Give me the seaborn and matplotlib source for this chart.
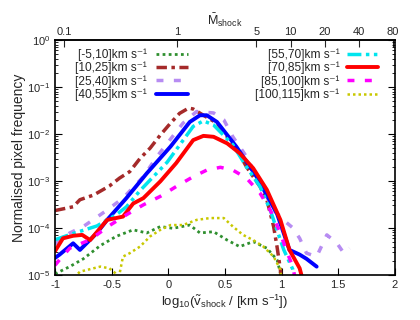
"""
速度ビン別の衝撃波速度分布（正規化ピクセル頻度）を再現する
"""

import numpy as np
import pandas as pd
import matplotlib
matplotlib.use("Agg")
import matplotlib.pyplot as plt
import seaborn as sns

# ---- データ ----
labels = ["[-5,10]km s⁻¹", "[10,25]km s⁻¹", "[25,40]km s⁻¹", "[40,55]km s⁻¹",
          "[55,70]km s⁻¹", "[70,85]km s⁻¹", "[85,100]km s⁻¹", "[100,115]km s⁻¹"]

x_m5_10 = [-1.0, -0.87, -0.75, -0.60, -0.46, -0.31, -0.19, -0.07, 0.04, 0.19,
           0.28, 0.40, 0.52, 0.63, 0.75, 0.87, 0.96, 0.99, 1.0]
y_m5_10 = [1.05e-5, 1.5e-5, 2.2e-5, 4.2e-5, 6.6e-5, 9.1e-5, 7.8e-5, 1.07e-4, 9.8e-5, 1.15e-4,
           7.8e-5, 8.3e-5, 5.5e-5, 4.0e-5, 5.1e-5, 3.7e-5, 2.1e-5, 1.1e-5, 6e-6]

x_10_25 = [-1.0, -0.84, -0.78, -0.66, -0.52, -0.43, -0.34, -0.25, -0.16, -0.07, 0.02, 0.10,
           0.18, 0.22, 0.31, 0.43, 0.52, 0.60, 0.69, 0.81, 0.87, 0.93, 0.96, 0.99, 1.0]
y_10_25 = [2.34e-4, 2.82e-4, 3.98e-4, 5.0e-4, 7.8e-4, 1.15e-3, 1.58e-3, 3.0e-3, 5.0e-3, 9.5e-3,
           1.7e-2, 2.75e-2, 3.55e-2, 3.4e-2, 2.5e-2, 1.7e-2, 8.7e-3, 5.0e-3, 2.0e-3, 7.6e-4,
           4.0e-4, 1.07e-4, 4.0e-5, 1.3e-5, 5e-6]

x_25_40 = [-1.0, -0.87, -0.75, -0.54, -0.40, -0.22, -0.10, 0.13, 0.25, 0.40, 0.49, 0.57,
           0.69, 0.81, 0.93, 1.04, 1.10, 1.16, 1.22, 1.31, 1.40, 1.49, 1.55, 1.60]
y_25_40 = [4.5e-5, 7.8e-5, 1.07e-4, 2.4e-4, 4.3e-4, 1.23e-3, 3.3e-3, 1.7e-2, 3.0e-2, 2.8e-2,
           2.0e-2, 8.7e-3, 3.3e-3, 8.9e-4, 2.4e-4, 1.32e-4, 1.0e-4, 6.0e-5, 2.9e-5, 2.45e-5,
           7.1e-5, 4.7e-5, 2.9e-5, 3.7e-5]

x_40_55 = [-1.0, -0.96, -0.84, -0.78, -0.63, -0.54, -0.37, -0.19, 0.02, 0.19, 0.28, 0.34,
           0.43, 0.60, 0.78, 0.96, 1.07, 1.16, 1.22, 1.31]
y_40_55 = [2.3e-5, 2.7e-5, 4.7e-5, 3.4e-5, 7.8e-5, 1.48e-4, 4.3e-4, 1.45e-3, 5.4e-3, 1.8e-2,
           2.5e-2, 2.5e-2, 1.8e-2, 5.4e-3, 1.23e-3, 2.0e-4, 3.4e-5, 2.7e-5, 2.2e-5, 1.5e-5]

x_55_70 = [-1.0, -0.84, -0.75, -0.63, -0.54, -0.46, -0.37, -0.25, -0.01, 0.22, 0.31, 0.40,
           0.57, 0.69, 0.81, 0.90, 1.02, 1.10, 1.13]
y_55_70 = [5.6e-5, 7.6e-5, 8.9e-5, 1.1e-4, 1.48e-4, 1.9e-4, 2.8e-4, 6.2e-4, 2.5e-3, 1.45e-2,
           1.9e-2, 1.55e-2, 5.9e-3, 2.0e-3, 7.6e-4, 2.4e-4, 3.4e-5, 1.3e-5, 6e-6]

x_70_85 = [-1.0, -0.93, -0.84, -0.76, -0.69, -0.54, -0.40, -0.31, -0.22, -0.07, 0.07, 0.22,
           0.31, 0.40, 0.52, 0.63, 0.75, 0.87, 0.99, 1.07, 1.16, 1.20]
y_70_85 = [3.2e-5, 6.0e-5, 6.8e-5, 7.1e-5, 5.5e-5, 1.48e-4, 1.74e-4, 3.3e-4, 4.3e-4, 9.8e-4,
           2.4e-3, 7.4e-3, 9.1e-3, 8.7e-3, 6.3e-3, 3.9e-3, 1.86e-3, 6.5e-4, 1.48e-4, 3.4e-5,
           1.38e-5, 6e-6]

x_85_100 = [-1.0, -0.96, -0.87, -0.69, -0.52, -0.37, -0.22, -0.07, 0.07, 0.22, 0.34, 0.46,
            0.57, 0.69, 0.81, 0.90, 0.99, 1.04, 1.10, 1.13]
y_85_100 = [1.6e-5, 2.1e-5, 3.7e-5, 5.6e-5, 1.12e-4, 1.9e-4, 3.1e-4, 4.7e-4, 7.6e-4, 1.23e-3,
            1.7e-3, 1.95e-3, 1.7e-3, 1.15e-3, 5.5e-4, 2.4e-4, 7.8e-5, 3.4e-5, 1.5e-5, 6e-6]

x_100_115 = [-0.90, -0.78, -0.60, -0.52, -0.47, -0.44, -0.40, -0.34, -0.25, -0.16, -0.07,
             0.02, 0.13, 0.25, 0.37, 0.49, 0.57, 0.66, 0.75, 0.84, 0.93, 0.99, 1.0]
y_100_115 = [6e-6, 1.17e-5, 1.5e-5, 1.38e-5, 1.1e-5, 8e-6, 2.45e-5, 2.9e-5, 4.0e-5, 6.6e-5,
             9.1e-5, 1.15e-4, 1.15e-4, 1.48e-4, 1.62e-4, 1.62e-4, 1.07e-4, 7.1e-5, 5.5e-5,
             4.0e-5, 2.45e-5, 1.3e-5, 6e-6]

xs = [x_m5_10, x_10_25, x_25_40, x_40_55, x_55_70, x_70_85, x_85_100, x_100_115]
ys = [y_m5_10, y_10_25, y_25_40, y_40_55, y_55_70, y_70_85, y_85_100, y_100_115]

# 上軸（マッハ数）
mach_ticks = [0.1, 1, 5, 10, 20, 40, 80]
mach_labels = ["0.1", "1", "5", "10", "20", "40", "80"]
c_sound = 1.2  # km/s


def logv_to_mach(v):
    return 10 ** np.asarray(v, dtype=float) / c_sound


def mach_to_logv(m):
    return np.log10(np.clip(np.asarray(m, dtype=float), 1e-6, None) * c_sound)


# ---- スタイル ----
colors = ["#2f8f2f", "#a52a2a", "#b78cf2", "#0000ff", "#00e5ee", "#ff0000", "#ff00ff", "#c8c800"]
widths = [2.0, 2.5, 2.5, 2.8, 2.5, 2.8, 2.5, 1.8]
styles = [(0, (1, 1.2)), (0, (3, 1.3, 1, 1.3)), (0, (2, 3)), "-",
          (0, (4, 1.3, 1, 1.3, 1, 1.3)), "-", (0, (2, 3)), (0, (1, 1.2))]

sns.set_theme(style="ticks")
plt.rcParams["font.family"] = ["Liberation Sans", "DejaVu Sans"]
plt.rcParams["mathtext.fontset"] = "custom"
plt.rcParams["mathtext.rm"] = "Liberation Sans"
plt.rcParams["mathtext.it"] = "Liberation Sans:italic"
plt.rcParams["mathtext.default"] = "regular"
plt.rcParams["font.size"] = 8

fig = plt.figure(figsize=(4.2, 3.2), dpi=100)
ax = fig.add_axes([0.131, 0.141, 0.809, 0.734])

for i in range(len(labels)):
    df = pd.DataFrame({"x": xs[i], "y": ys[i]})
    sns.lineplot(data=df, x="x", y="y", ax=ax, color=colors[i], lw=widths[i],
                 linestyle=styles[i], label=labels[i], estimator=None, sort=False,
                 legend=False)

ax.set_yscale("log")
ax.set_xlim(-1, 2)
ax.set_ylim(1e-5, 1)
ax.set_xticks([-1, -0.5, 0, 0.5, 1, 1.5, 2])
ax.set_xticklabels(["-1", "-0.5", "0", "0.5", "1", "1.5", "2"])
ax.tick_params(axis="both", which="both", direction="in", labelsize=8, color="black")
ax.tick_params(axis="both", which="major", length=5, width=0.8)
ax.tick_params(axis="y", which="minor", length=2.5, width=0.6)
ax.tick_params(axis="y", which="both", right=True)
ax.tick_params(axis="x", top=False)
for s in ax.spines.values():
    s.set_linewidth(1.2)
    s.set_color("black")

ax.set_xlabel(r"log$_{10}$($\tilde{v}_{\rm shock}$ / [km s$^{-1}$])", fontsize=9.5, labelpad=2)
ax.set_ylabel("Normalised pixel frequency", fontsize=10, labelpad=1)

sec = ax.secondary_xaxis("top", functions=(logv_to_mach, mach_to_logv))
sec.set_xscale("log")
sec.set_xticks(mach_ticks)
sec.set_xticklabels(mach_labels)
sec.xaxis.set_minor_locator(matplotlib.ticker.NullLocator())
sec.tick_params(direction="in", length=5, width=0.8, labelsize=8, pad=2)
sec.set_xlabel(r"$\bar{M}_{\rm shock}$", fontsize=9, labelpad=2)

# ---- 凡例（左右2つ、文字は右寄せ） ----
lines = ax.get_lines()
leg_kw = dict(frameon=False, markerfirst=False, handlelength=2.6, labelspacing=0.08,
              borderpad=0.0, borderaxespad=0.0, fontsize=8.6)
leg1 = ax.legend(lines[:4], labels[:4], loc="upper right", bbox_to_anchor=(0.39, 0.965),
                 handletextpad=0.8, **leg_kw)
ax.add_artist(leg1)
ax.legend(lines[4:], labels[4:], loc="upper right", bbox_to_anchor=(0.95, 0.965),
          handletextpad=0.6, **leg_kw)

fig.savefig("out.png", dpi=100)
